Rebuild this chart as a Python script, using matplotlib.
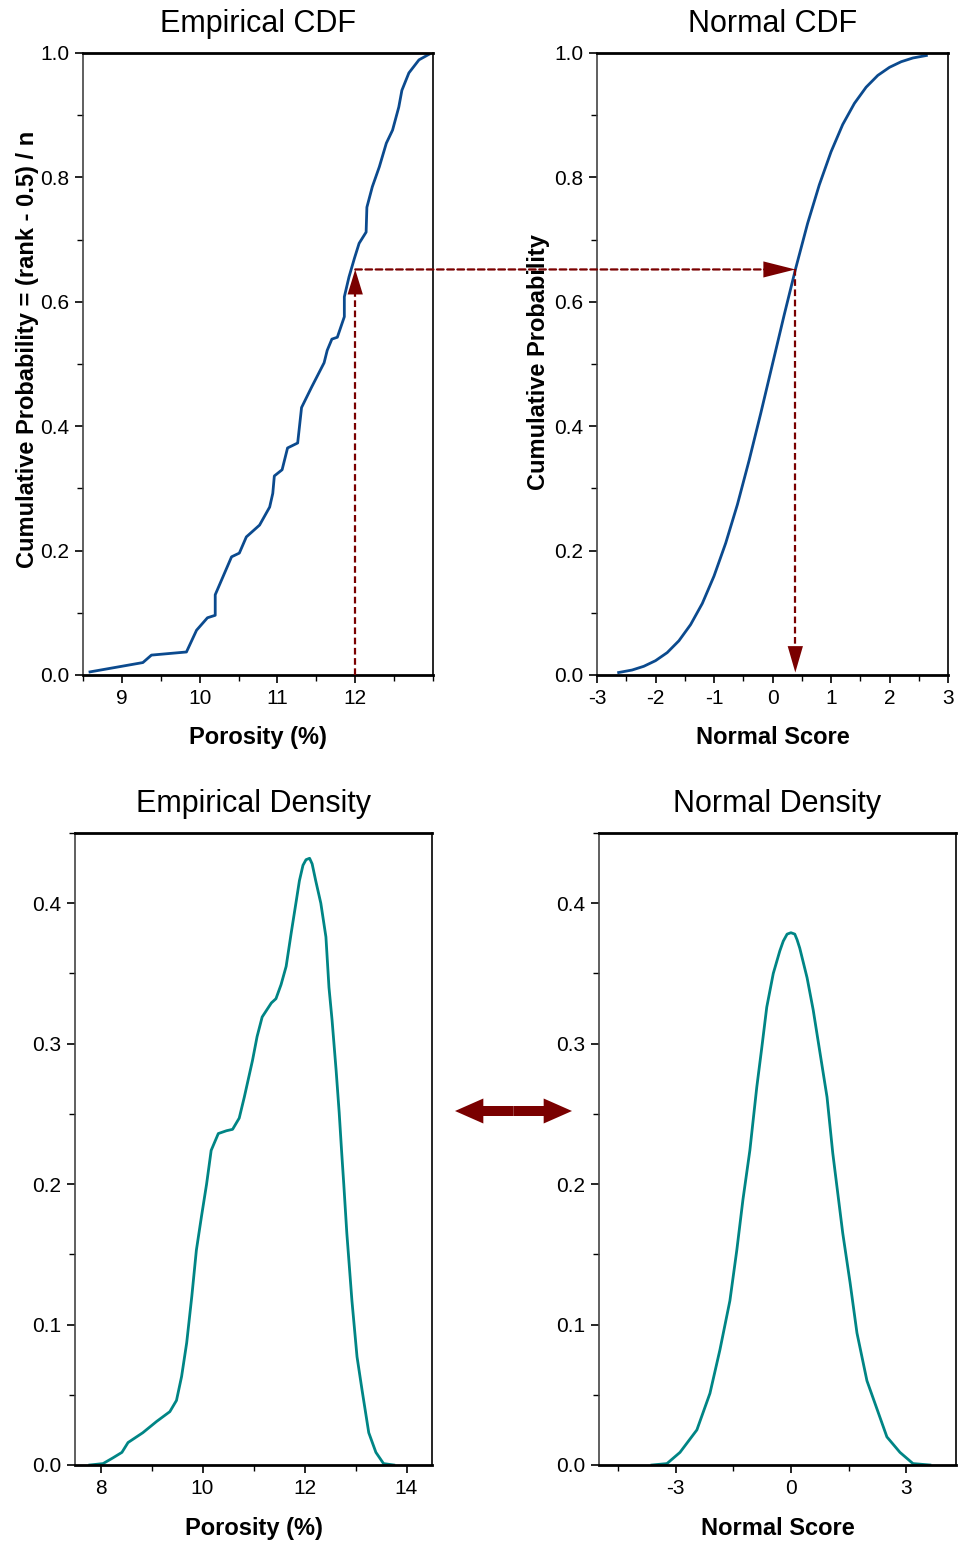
import matplotlib
matplotlib.use("Agg")
import matplotlib.pyplot as plt
from matplotlib.patches import ConnectionPatch, FancyArrowPatch
from matplotlib.ticker import MultipleLocator, FixedLocator

plt.rcParams['font.family'] = ['Liberation Sans', 'DejaVu Sans']
plt.rcParams['axes.unicode_minus'] = False

# ---------------- data ----------------
# Empirical CDF (porosity %, cumulative probability)
emp_cdf_x = [8.59, 9.27, 9.38, 9.83, 9.96, 10.10, 10.20, 10.20, 10.41, 10.51, 10.60, 10.77,
             10.90, 10.94, 10.96, 11.06, 11.13, 11.26, 11.31, 11.44, 11.60, 11.64, 11.70,
             11.77, 11.86, 11.86, 11.92, 11.99, 12.05, 12.14, 12.15, 12.22, 12.31, 12.40,
             12.48, 12.56, 12.60, 12.69, 12.82, 12.95]
emp_cdf_p = [0.005, 0.020, 0.032, 0.037, 0.072, 0.092, 0.096, 0.129, 0.190, 0.196, 0.222, 0.241,
             0.270, 0.292, 0.320, 0.330, 0.365, 0.373, 0.430, 0.463, 0.502, 0.522, 0.540,
             0.543, 0.576, 0.608, 0.640, 0.670, 0.694, 0.712, 0.752, 0.785, 0.817, 0.855,
             0.876, 0.913, 0.940, 0.968, 0.989, 0.998]

# Normal CDF (normal score, cumulative probability)
norm_cdf_z = [-2.63, -2.4, -2.2, -2.0, -1.8, -1.6, -1.4, -1.2, -1.0, -0.8, -0.6, -0.4, -0.2, 0.0,
              0.2, 0.4, 0.6, 0.8, 1.0, 1.2, 1.4, 1.6, 1.8, 2.0, 2.2, 2.4, 2.63]
norm_cdf_p = [0.004, 0.008, 0.014, 0.023, 0.036, 0.055, 0.081, 0.115, 0.159, 0.212, 0.274, 0.345,
              0.421, 0.500, 0.579, 0.655, 0.726, 0.788, 0.841, 0.885, 0.919, 0.945, 0.964, 0.977,
              0.986, 0.992, 0.996]

# Empirical density (porosity %, density)
emp_den_x = [7.79, 8.05, 8.24, 8.42, 8.54, 8.83, 9.10, 9.36, 9.49, 9.59, 9.69, 9.79, 9.88, 9.98,
             10.08, 10.17, 10.31, 10.47, 10.59, 10.72, 10.82, 10.98, 11.07, 11.17, 11.35, 11.44,
             11.54, 11.64, 11.74, 11.84, 11.90, 11.97, 12.03, 12.10, 12.15, 12.22, 12.32, 12.42,
             12.48, 12.54, 12.62, 12.68, 12.73, 12.77, 12.83, 12.93, 13.03, 13.13, 13.26, 13.40,
             13.55, 13.75]
emp_den_y = [0.000, 0.001, 0.005, 0.009, 0.016, 0.023, 0.031, 0.038, 0.046, 0.063, 0.087, 0.120,
             0.153, 0.177, 0.200, 0.224, 0.236, 0.238, 0.239, 0.247, 0.262, 0.288, 0.305, 0.319,
             0.329, 0.332, 0.342, 0.355, 0.379, 0.402, 0.416, 0.427, 0.431, 0.432, 0.428, 0.416,
             0.400, 0.376, 0.340, 0.317, 0.281, 0.251, 0.222, 0.200, 0.165, 0.117, 0.077, 0.053,
             0.023, 0.009, 0.001, 0.000]

# Normal density (normal score, density)
norm_den_x = [-3.62, -3.23, -2.89, -2.45, -2.11, -1.85, -1.59, -1.41, -1.25, -1.07, -0.89, -0.76,
              -0.63, -0.46, -0.29, -0.20, -0.10, 0.0, 0.10, 0.16, 0.23, 0.42, 0.58, 0.76, 0.94,
              1.09, 1.35, 1.54, 1.72, 1.98, 2.50, 2.84, 3.18, 3.62]
norm_den_y = [0.000, 0.001, 0.009, 0.025, 0.051, 0.082, 0.117, 0.153, 0.189, 0.224, 0.269, 0.297,
              0.326, 0.350, 0.366, 0.373, 0.378, 0.379, 0.378, 0.374, 0.368, 0.347, 0.324, 0.293,
              0.262, 0.222, 0.165, 0.130, 0.094, 0.060, 0.020, 0.009, 0.001, 0.000]

# Transform illustration values
probe_porosity = 12.0
probe_prob = 0.652
probe_score = 0.39

# ---------------- styles ----------------
CDF_COLOR = '#0B4A8E'
DEN_COLOR = '#008585'
ARROW_COLOR = '#7A0000'
TICK_FS = 15
LABEL_FS = 17
TITLE_FS = 22

W, H = 958, 1545
fig = plt.figure(figsize=(W / 100, H / 100), dpi=100)


def axes_px(l, t, r, b):
    return fig.add_axes([l / W, 1 - b / H, (r - l) / W, (b - t) / H])


def style(ax):
    for s in ('top', 'bottom'):
        ax.spines[s].set_linewidth(2.0)
        ax.spines[s].set_color('black')
    ax.spines['right'].set_linewidth(1.2)
    ax.spines['right'].set_color('black')
    ax.spines['left'].set_linewidth(1.2)
    ax.spines['left'].set_color('#444444')
    ax.tick_params(which='major', direction='out', length=6, width=1.2,
                   labelsize=TICK_FS, top=False, right=False, pad=4)
    ax.tick_params(which='minor', direction='out', length=4, width=1.0,
                   top=False, right=False)


ax1 = axes_px(83, 53, 433, 675)
ax2 = axes_px(597, 53, 948, 675)
ax3 = axes_px(75, 833, 432, 1465)
ax4 = axes_px(599, 833, 956, 1465)

fmt1 = plt.FuncFormatter(lambda v, p: f"{v:.1f}")

# ---- Empirical CDF ----
ax1.plot(emp_cdf_x, emp_cdf_p, color=CDF_COLOR, lw=2.0)
ax1.set_xlim(8.5, 13.0)
ax1.set_ylim(0, 1.0)
ax1.xaxis.set_major_locator(FixedLocator([9, 10, 11, 12]))
ax1.xaxis.set_minor_locator(MultipleLocator(0.5))
ax1.yaxis.set_major_locator(MultipleLocator(0.2))
ax1.yaxis.set_minor_locator(MultipleLocator(0.1))
ax1.yaxis.set_major_formatter(fmt1)
style(ax1)
ax1.set_title('Empirical CDF', fontsize=TITLE_FS, pad=15)
ax1.set_xlabel('Porosity (%)', fontsize=LABEL_FS, fontweight='bold', labelpad=13)
ax1.set_ylabel('Cumulative Probability = (rank - 0.5) / n', fontsize=LABEL_FS, fontweight='bold')
ax1.yaxis.set_label_coords(-0.125, 0.524)

# ---- Normal CDF ----
ax2.plot(norm_cdf_z, norm_cdf_p, color=CDF_COLOR, lw=2.0)
ax2.set_xlim(-3, 3)
ax2.set_ylim(0, 1.0)
ax2.xaxis.set_major_locator(MultipleLocator(1))
ax2.xaxis.set_minor_locator(MultipleLocator(0.5))
ax2.yaxis.set_major_locator(MultipleLocator(0.2))
ax2.yaxis.set_minor_locator(MultipleLocator(0.1))
ax2.yaxis.set_major_formatter(fmt1)
style(ax2)
ax2.set_title('Normal CDF', fontsize=TITLE_FS, pad=15)
ax2.set_xlabel('Normal Score', fontsize=LABEL_FS, fontweight='bold', labelpad=13)
ax2.set_ylabel('Cumulative Probability', fontsize=LABEL_FS, fontweight='bold')
ax2.yaxis.set_label_coords(-0.134, 0.503)

# ---- transform arrows ----
dash = (0, (3, 1.6))
ax1.plot([probe_porosity, probe_porosity], [0, probe_prob - 0.04], color=ARROW_COLOR,
         lw=1.6, linestyle=dash, zorder=3)
ax1.annotate('', xy=(probe_porosity, probe_prob), xytext=(probe_porosity, probe_prob - 0.15),
             arrowprops=dict(arrowstyle='-|>,head_length=1.8,head_width=0.55', color=ARROW_COLOR,
                             lw=0, shrinkA=0, shrinkB=0, mutation_scale=10), zorder=4)
con = ConnectionPatch(xyA=(probe_porosity, probe_prob), coordsA=ax1.transData,
                      xyB=(probe_score - 0.5, probe_prob), coordsB=ax2.transData,
                      color=ARROW_COLOR, lw=1.6, linestyle=dash, zorder=5)
fig.add_artist(con)
ax2.annotate('', xy=(probe_score, probe_prob), xytext=(probe_score - 1.2, probe_prob),
             arrowprops=dict(arrowstyle='-|>,head_length=2.3,head_width=0.58', color=ARROW_COLOR,
                             lw=0, shrinkA=0, shrinkB=0, mutation_scale=10), zorder=4)
ax2.plot([probe_score, probe_score], [probe_prob, 0.05], color=ARROW_COLOR,
         lw=1.6, linestyle=dash, zorder=3)
ax2.annotate('', xy=(probe_score, 0.004), xytext=(probe_score, 0.15),
             arrowprops=dict(arrowstyle='-|>,head_length=1.9,head_width=0.55', color=ARROW_COLOR,
                             lw=0, shrinkA=0, shrinkB=0, mutation_scale=10), zorder=4)

# ---- Empirical density ----
ax3.plot(emp_den_x, emp_den_y, color=DEN_COLOR, lw=2.0)
ax3.set_xlim(7.5, 14.5)
ax3.set_ylim(0, 0.45)
ax3.xaxis.set_major_locator(MultipleLocator(2))
ax3.xaxis.set_minor_locator(MultipleLocator(1))
ax3.yaxis.set_major_locator(MultipleLocator(0.1))
ax3.yaxis.set_minor_locator(MultipleLocator(0.05))
ax3.yaxis.set_major_formatter(fmt1)
style(ax3)
ax3.set_title('Empirical Density', fontsize=TITLE_FS, pad=15)
ax3.set_xlabel('Porosity (%)', fontsize=LABEL_FS, fontweight='bold', labelpad=14)

# ---- Normal density ----
ax4.plot(norm_den_x, norm_den_y, color=DEN_COLOR, lw=2.0)
ax4.set_xlim(-5.0, 4.3)
ax4.set_ylim(0, 0.45)
ax4.xaxis.set_major_locator(MultipleLocator(3))
ax4.xaxis.set_minor_locator(FixedLocator([-4.5, -1.5, 1.5]))
ax4.yaxis.set_major_locator(MultipleLocator(0.1))
ax4.yaxis.set_minor_locator(MultipleLocator(0.05))
ax4.yaxis.set_major_formatter(fmt1)
style(ax4)
ax4.set_title('Normal Density', fontsize=TITLE_FS, pad=15)
ax4.set_xlabel('Normal Score', fontsize=LABEL_FS, fontweight='bold', labelpad=14)

# ---- double arrow between density panels ----
y_mid = 1 - 1111 / H
x_mid = (455 + 572) / 2 / W
for x_end in (455 / W, 572 / W):
    fig.add_artist(FancyArrowPatch((x_mid, y_mid), (x_end, y_mid), transform=fig.transFigure,
                                   arrowstyle='simple,head_length=0.85,head_width=0.75,tail_width=0.3',
                                   mutation_scale=24, color=ARROW_COLOR, lw=0,
                                   shrinkA=0, shrinkB=0))

fig.savefig('out.png', dpi=100)
